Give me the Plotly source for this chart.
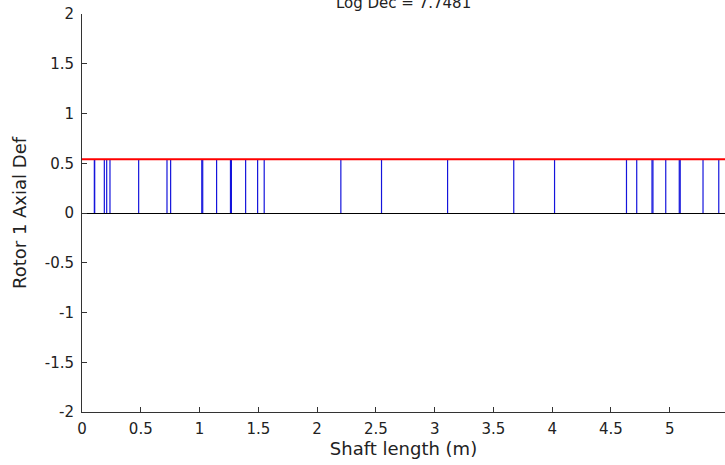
import plotly.graph_objects as go

# Data
station_x = [0.105, 0.108, 0.19, 0.21, 0.238, 0.482, 0.723, 0.754, 1.019, 1.027,
             1.145, 1.263, 1.271, 1.392, 1.494, 1.55, 2.202, 2.548, 3.11, 3.673,
             4.02, 4.632, 4.719, 4.849, 4.857, 4.966, 5.081, 5.089, 5.283, 5.417]
axial_def = 0.54
title_text = "Log Dec = 7.7481"
x_ticks = [0, 0.5, 1, 1.5, 2, 2.5, 3, 3.5, 4, 4.5, 5]
y_ticks = [-2, -1.5, -1, -0.5, 0, 0.5, 1, 1.5, 2]
x_range = [0, 5.47]
y_range = [-2, 2]

xs, ys = [], []
for x in station_x:
    xs += [x, x, None]
    ys += [0, axial_def, None]

fig = go.Figure()
fig.add_trace(go.Scatter(x=xs, y=ys, mode="lines",
                         line=dict(color="#1414dc", width=1.2),
                         hoverinfo="skip", showlegend=False))
fig.add_hline(y=axial_def, line=dict(color="#ff0000", width=2.2))

fam = "DejaVu Sans, Arial, sans-serif"
font = dict(family=fam, size=15, color="#222222")
fig.update_layout(
    width=725, height=465,
    margin=dict(l=82, r=0, t=14, b=53),
    paper_bgcolor="white", plot_bgcolor="white",
    font=font,
    showlegend=False,
    annotations=[dict(text=title_text, x=0.5, y=1, xref="paper", yref="paper",
                      xanchor="center", yanchor="middle", yshift=11,
                      showarrow=False, font=dict(family=fam, size=15, color="#222222"))],
)
fig.update_xaxes(range=x_range, tickvals=x_ticks, ticktext=[f"{v:g}" for v in x_ticks],
                 ticks="inside", ticklen=5, tickcolor="#333333", ticklabelstandoff=3,
                 showgrid=False, zeroline=False, showline=True, linecolor="#333333",
                 linewidth=1, mirror=False,
                 title=dict(text="Shaft length (m)", standoff=3))
fig.update_yaxes(range=y_range, tickvals=y_ticks, ticktext=[f"{v:g}" for v in y_ticks],
                 ticks="inside", ticklen=5, tickcolor="#333333", ticklabelstandoff=4,
                 showgrid=False, zeroline=True, zerolinecolor="#000000", zerolinewidth=1,
                 showline=True, linecolor="#333333", linewidth=1, mirror=False,
                 title=dict(text="Rotor 1 Axial Def", standoff=13))
fig.write_html("out.html")
